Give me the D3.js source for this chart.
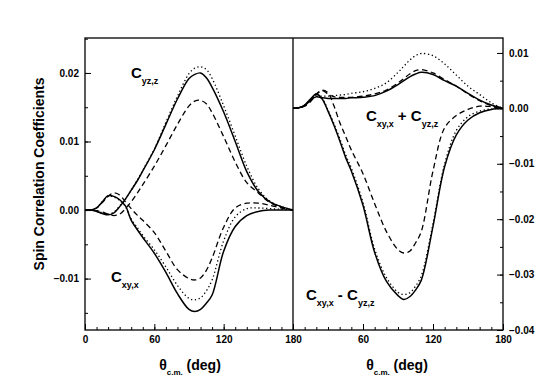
<!DOCTYPE html>
<html><head><meta charset="utf-8">
<script src="https://cdn.jsdelivr.net/npm/d3@7"></script>
<style>
html,body{margin:0;padding:0;background:#fff;}
text{font-family:"Liberation Sans",Arial,sans-serif;font-weight:bold;fill:#000;}
</style></head>
<body><svg id="c" width="556" height="385"></svg>
<script>
// ---- data (angles in degrees, c.m.) ----
const angles = [0,5,10,15,20,25,30,35,40,45,50,60,70,80,90,95,100,105,110,120,130,140,150,160,170,180];
// left panel
const cyzSolid  = [0,0,-0.0002,-0.0005,-0.0007,-0.0004,0.0005,0.0016,0.0029,0.0042,0.0057,0.0088,0.0125,0.0162,0.0192,0.0198,0.0200,0.0193,0.0179,0.0143,0.0100,0.0056,0.0027,0.0012,0.0005,0];
const cyzDotted = [0,0,-0.0001,-0.0004,-0.0006,-0.0003,0.0006,0.0016,0.0029,0.0043,0.0058,0.0089,0.0128,0.0166,0.0199,0.0207,0.0209,0.0205,0.0192,0.0152,0.0108,0.0064,0.0031,0.0013,0.0005,0];
const cyzDashed = [0,0,-0.0001,-0.0003,-0.0006,-0.0008,-0.0006,0.0002,0.0012,0.0024,0.0037,0.0064,0.0094,0.0125,0.0152,0.0159,0.0160,0.0155,0.0142,0.0107,0.0070,0.0040,0.0025,0.0011,0.0004,0];
const cxySolid  = [0,0,0.0003,0.0012,0.0021,0.0020,0.0015,0.0006,-0.0015,-0.0028,-0.0040,-0.0063,-0.0091,-0.0122,-0.0145,-0.0148,-0.0145,-0.0136,-0.0124,-0.0060,-0.0024,-0.0008,-0.0002,0,0,0];
const cxyDotted = [0,0,0.0003,0.0012,0.0020,0.0019,0.0014,0.0005,-0.0013,-0.0025,-0.0037,-0.0058,-0.0083,-0.0110,-0.0129,-0.0131,-0.0128,-0.0118,-0.0102,-0.0045,-0.0010,0.0002,0.0003,0.0002,0.0001,0];
const cxyDashed = [0,0,0.0003,0.0011,0.0020,0.0025,0.0022,0.0012,0.0002,-0.0007,-0.0015,-0.0033,-0.0060,-0.0087,-0.0100,-0.0102,-0.0099,-0.0088,-0.0070,-0.0025,0.0003,0.0010,0.0010,0.0007,0.0003,0];
// right panel
const sumSolid  = [0,0.0001,0.0005,0.0015,0.0021,0.0019,0.0018,0.0018,0.0018,0.0018,0.0019,0.0020,0.0023,0.0031,0.0043,0.0050,0.0057,0.0062,0.0065,0.0061,0.0050,0.0040,0.0027,0.0015,0.0006,0];
const sumDotted = [0,0.0001,0.0005,0.0015,0.0022,0.0022,0.0022,0.0023,0.0024,0.0025,0.0027,0.0030,0.0036,0.0046,0.0065,0.0076,0.0087,0.0095,0.0099,0.0095,0.0080,0.0060,0.0040,0.0025,0.0010,0];
const sumDashed = [0,0.0001,0.0004,0.0012,0.0025,0.0032,0.0026,0.0021,0.0020,0.0020,0.0020,0.0022,0.0026,0.0033,0.0046,0.0054,0.0062,0.0068,0.0070,0.0064,0.0052,0.0040,0.0026,0.0014,0.0005,0];
const diffSolid  = [0,0.0001,0.0006,0.0017,0.0026,0.0017,-0.0005,-0.0030,-0.0058,-0.0088,-0.0113,-0.0175,-0.0260,-0.0312,-0.0338,-0.0345,-0.0340,-0.0328,-0.0310,-0.0213,-0.0105,-0.0048,-0.0021,-0.0008,-0.0002,0];
const diffDotted = [0,0.0001,0.0006,0.0016,0.0026,0.0018,-0.0003,-0.0027,-0.0054,-0.0083,-0.0108,-0.0170,-0.0254,-0.0305,-0.0332,-0.0336,-0.0333,-0.0321,-0.0302,-0.0208,-0.0100,-0.0040,-0.0015,-0.0005,-0.0001,0];
const diffDashed = [0,0.0001,0.0005,0.0014,0.0026,0.0033,0.0028,0.0005,-0.0025,-0.0050,-0.0075,-0.0118,-0.0172,-0.0222,-0.0255,-0.0261,-0.0258,-0.0243,-0.0222,-0.0113,-0.0035,-0.0013,-0.0002,0.0004,0.0003,0];
// ticks
const xTicksLeft  = [0,60,120,180];
const xTicksRight = [60,120,180];
const yTicksLeft  = [-0.01,0.00,0.01,0.02];
const yTicksRight = [-0.04,-0.03,-0.02,-0.01,0.00,0.01];

// ---- layout ----
const svg = d3.select("#c");
const plotTop = 38, plotBottom = 330, xL0 = 85, xMid = 293, xR1 = 503;
const xLeft  = d3.scaleLinear().domain([0,180]).range([xL0, xMid]);
const xRight = d3.scaleLinear().domain([0,180]).range([xMid, xR1]);
const yLeft  = d3.scaleLinear().domain([-0.0175,0.0251]).range([plotBottom, plotTop]);
const yRight = d3.scaleLinear().domain([-0.04,0.0127]).range([plotBottom, plotTop]);

const styles = {
  solid:  {w:1.5, dash:null},
  dotted: {w:1.3, dash:"1.3,2.6"},
  dashed: {w:1.3, dash:"5.5,3.5"}
};

function drawLine(xs, ys, vals, style){
  const line = d3.line().x((d,i)=>xs(angles[i])).y(d=>ys(d)).curve(d3.curveCatmullRom.alpha(0.5));
  svg.append("path").attr("d", line(vals)).attr("fill","none").attr("stroke","#000")
    .attr("stroke-width", styles[style].w).attr("stroke-dasharray", styles[style].dash)
    .attr("stroke-linecap","butt");
}

drawLine(xLeft, yLeft, cyzSolid, "solid");
drawLine(xLeft, yLeft, cyzDotted, "dotted");
drawLine(xLeft, yLeft, cyzDashed, "dashed");
drawLine(xLeft, yLeft, cxySolid, "solid");
drawLine(xLeft, yLeft, cxyDotted, "dotted");
drawLine(xLeft, yLeft, cxyDashed, "dashed");
drawLine(xRight, yRight, sumSolid, "solid");
drawLine(xRight, yRight, sumDotted, "dotted");
drawLine(xRight, yRight, sumDashed, "dashed");
drawLine(xRight, yRight, diffSolid, "solid");
drawLine(xRight, yRight, diffDotted, "dotted");
drawLine(xRight, yRight, diffDashed, "dashed");

// ---- axes ----
function axisG(axis, tx, ty){
  const g = svg.append("g").attr("transform",`translate(${tx},${ty})`).call(axis);
  g.select(".domain").remove();
  g.selectAll("line").attr("stroke","#000").attr("stroke-width",1);
  g.selectAll("text").style("font-family",'"Liberation Sans",Arial,sans-serif').style("font-weight","bold").style("font-size","10px").attr("fill","#000");
  return g;
}
// x axes: minor ticks
axisG(d3.axisTop(xLeft).tickValues(d3.range(0,181,10)).tickSize(3).tickFormat(""), 0, plotBottom);
axisG(d3.axisTop(xRight).tickValues(d3.range(0,181,10)).tickSize(3).tickFormat(""), 0, plotBottom);
// x major ticks (inward) + labels
axisG(d3.axisTop(xLeft).tickValues(xTicksLeft).tickSize(6).tickFormat(""), 0, plotBottom);
axisG(d3.axisTop(xRight).tickValues([0].concat(xTicksRight)).tickSize(6).tickFormat(""), 0, plotBottom);
axisG(d3.axisBottom(xLeft).tickValues(xTicksLeft).tickSize(0).tickPadding(6).tickFormat(d3.format("d")), 0, plotBottom);
axisG(d3.axisBottom(xRight).tickValues(xTicksRight).tickSize(0).tickPadding(6).tickFormat(d3.format("d")), 0, plotBottom);
// left y axis
axisG(d3.axisRight(yLeft).tickValues(d3.range(-0.015,0.0251,0.005)).tickSize(3).tickFormat(""), xL0, 0);
axisG(d3.axisRight(yLeft).tickValues(yTicksLeft).tickSize(6).tickFormat(""), xL0, 0);
axisG(d3.axisLeft(yLeft).tickValues(yTicksLeft).tickSize(0).tickPadding(6).tickFormat(d3.format(".2f")), xL0, 0);
// right y axis
axisG(d3.axisLeft(yRight).tickValues(d3.range(-0.035,0.0127,0.005)).tickSize(3).tickFormat(""), xR1, 0);
axisG(d3.axisLeft(yRight).tickValues(yTicksRight).tickSize(6).tickFormat(""), xR1, 0);
axisG(d3.axisRight(yRight).tickValues(yTicksRight).tickSize(0).tickPadding(6).tickFormat(d3.format(".2f")), xR1, 0);

// frame
svg.append("rect").attr("x",xL0).attr("y",plotTop).attr("width",xR1-xL0).attr("height",plotBottom-plotTop)
  .attr("fill","none").attr("stroke","#000").attr("stroke-width",1.3);
svg.append("line").attr("x1",xMid).attr("x2",xMid).attr("y1",plotTop).attr("y2",plotBottom)
  .attr("stroke","#000").attr("stroke-width",1.3);

// ---- labels ----
function label(x, y, parts, big, small){
  const t = svg.append("text").attr("x",x).attr("y",y).style("font-size",big+"px");
  let shifted = false;
  parts.forEach(p=>{
    const s = t.append("tspan").text(p.t);
    if(p.sub){ s.style("font-size",small+"px").attr("dy", shifted?0:6); shifted = true; }
    else { s.attr("dy", shifted?-6:0); shifted = false; }
  });
  return t;
}
label(131, 78, [{t:"C"},{t:"yz,z",sub:true}], 15, 9);
label(111, 281.5, [{t:"C"},{t:"xy,x",sub:true}], 15, 9);
label(366, 121, [{t:"C"},{t:"xy,x",sub:true},{t:" + C"},{t:"yz,z",sub:true}], 15, 9);
label(306, 300, [{t:"C"},{t:"xy,x",sub:true},{t:" - C"},{t:"yz,z",sub:true}], 15, 9);

// axis titles
function xTitle(cx){
  const t = svg.append("text").attr("x",cx).attr("y",370).attr("text-anchor","middle").style("font-size","14px");
  t.append("tspan").text("θ");
  t.append("tspan").text("c.m.").style("font-size","8px").attr("dy",5);
  t.append("tspan").text(" (deg)").attr("dy",-5);
}
xTitle(190);
xTitle(397);
svg.append("text").attr("transform","translate(44,174) rotate(-90)").attr("text-anchor","middle")
  .style("font-size","14px").text("Spin Correlation Coefficients");
</script></body></html>
